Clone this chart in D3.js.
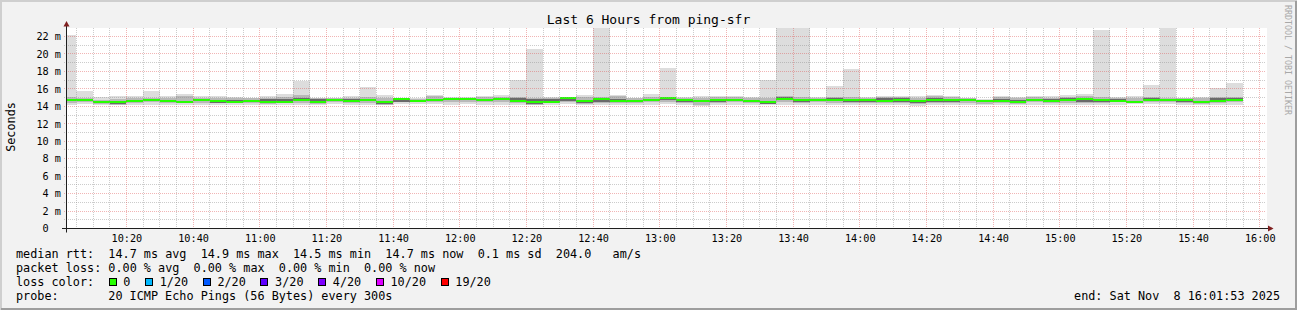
<!DOCTYPE html>
<html><head><meta charset="utf-8">
<script src="https://cdn.jsdelivr.net/npm/d3@7"></script>
<style>
html,body{margin:0;padding:0;background:#f2f2f2;overflow:hidden;}
svg{display:block;}
text{font-family:"DejaVu Sans Mono",monospace;fill:#000;white-space:pre;}
</style></head><body>
<svg id="c" width="1297" height="310"></svg>
<script>
// ---------------- data ----------------
const titleText = "Last 6 Hours from ping-sfr";
const timeStart = "10:01:53";
const timeEnd = "16:01:53";
const stepSeconds = 300;
// end time of each 5-minute probe interval
const stepEnds = [
 "10:05","10:10","10:15","10:20","10:25","10:30","10:35","10:40","10:45","10:50","10:55","11:00",
 "11:05","11:10","11:15","11:20","11:25","11:30","11:35","11:40","11:45","11:50","11:55","12:00",
 "12:05","12:10","12:15","12:20","12:25","12:30","12:35","12:40","12:45","12:50","12:55","13:00",
 "13:05","13:10","13:15","13:20","13:25","13:30","13:35","13:40","13:45","13:50","13:55","14:00",
 "14:05","14:10","14:15","14:20","14:25","14:30","14:35","14:40","14:45","14:50","14:55","15:00",
 "15:05","15:10","15:15","15:20","15:25","15:30","15:35","15:40","15:45","15:50","15:55"];
// ms values
const pingMin = [14.10,14.30,14.15,14.10,14.20,14.20,14.20,14.10,14.10,14.20,14.20,14.20,
 14.10,14.10,14.10,14.10,14.25,14.20,14.10,14.10,14.30,14.30,14.25,14.20,
 14.30,14.20,14.20,14.20,14.10,14.20,14.30,14.10,14.20,14.10,14.20,14.20,
 14.30,14.20,14.00,14.20,14.20,14.20,14.10,14.20,14.20,14.20,14.10,14.20,
 14.20,14.20,14.10,14.00,14.10,14.20,14.20,14.10,14.20,14.10,14.20,14.20,
 14.20,14.10,14.20,14.20,14.25,14.30,14.30,14.20,14.10,14.20,14.20];
const pingLo = [14.35,14.45,14.30,14.20,14.40,14.45,14.40,14.35,14.35,14.35,14.35,14.40,
 14.30,14.35,14.40,14.30,14.45,14.40,14.40,14.20,14.45,14.45,14.45,14.45,
 14.50,14.45,14.45,14.40,14.20,14.35,14.55,14.30,14.40,14.35,14.40,14.45,
 14.55,14.40,14.15,14.40,14.45,14.40,14.25,14.45,14.35,14.45,14.40,14.40,
 14.40,14.35,14.35,14.25,14.35,14.40,14.40,14.30,14.40,14.30,14.45,14.40,
 14.40,14.35,14.40,14.45,14.40,14.50,14.50,14.40,14.25,14.35,14.45];
const pingDkLo = [14.60,14.60,14.40,14.25,14.55,14.60,14.45,14.50,14.60,14.40,14.45,14.55,
 14.35,14.45,14.60,14.45,14.60,14.50,14.65,14.30,14.55,14.55,14.60,14.70,
 14.70,14.62,14.75,14.55,14.28,14.45,14.65,14.40,14.50,14.55,14.55,14.62,
 14.70,14.55,14.45,14.50,14.62,14.45,14.30,14.75,14.45,14.60,14.60,14.50,
 14.55,14.50,14.55,14.40,14.55,14.55,14.60,14.45,14.55,14.35,14.60,14.55,
 14.60,14.55,14.55,14.60,14.45,14.62,14.60,14.55,14.35,14.50,14.60];
const median = [14.68,14.70,14.45,14.50,14.65,14.70,14.60,14.55,14.67,14.58,14.50,14.65,
 14.55,14.55,14.70,14.55,14.70,14.60,14.75,14.50,14.80,14.65,14.72,14.80,
 14.80,14.72,14.85,14.65,14.50,14.55,14.90,14.65,14.80,14.65,14.65,14.72,
 14.92,14.70,14.58,14.72,14.72,14.62,14.45,14.85,14.72,14.70,14.72,14.72,
 14.70,14.65,14.70,14.62,14.70,14.70,14.70,14.60,14.65,14.55,14.70,14.65,
 14.75,14.80,14.68,14.65,14.55,14.72,14.72,14.68,14.50,14.65,14.70];
const pingDkHi = [14.80,14.86,14.55,14.60,14.75,14.80,14.70,14.65,14.75,14.65,14.75,14.75,
 14.80,14.85,14.95,14.80,14.80,14.85,14.85,14.60,14.90,14.75,14.88,14.90,
 14.90,14.88,14.95,14.92,14.80,14.80,15.00,14.75,14.90,14.80,14.75,14.82,
 15.02,14.80,14.68,14.82,14.82,14.72,14.55,15.05,14.82,14.80,14.95,14.82,
 14.85,14.90,14.90,14.75,14.95,14.80,14.80,14.65,14.85,14.70,14.80,14.80,
 14.90,14.95,14.82,14.85,14.65,14.95,14.82,14.85,14.60,14.90,14.90];
const pingHi = [15.05,15.00,14.70,14.80,14.95,15.00,14.90,15.20,14.95,14.90,14.95,14.90,
 15.00,15.10,15.30,14.90,14.90,15.00,15.10,15.00,14.95,14.85,15.15,15.00,
 14.98,15.10,15.10,15.10,14.95,14.95,15.02,15.10,15.10,15.20,14.90,15.10,
 15.05,15.00,14.95,15.10,15.05,14.95,14.90,15.15,15.05,14.95,15.05,15.05,
 15.00,15.05,15.05,15.00,15.15,15.05,14.90,14.75,15.05,14.95,15.05,15.00,
 15.10,15.15,15.10,14.95,14.95,15.10,15.00,14.95,14.90,15.05,15.05];
const pingMax = [22.20,15.80,15.10,15.20,15.20,15.70,15.20,15.40,15.20,15.20,15.10,15.00,
 15.20,15.40,16.90,15.00,15.00,15.20,16.20,15.35,15.00,14.90,15.35,15.10,
 15.05,15.20,15.35,17.00,20.60,15.05,15.05,15.35,23.50,15.35,15.00,15.45,
 18.35,15.10,15.20,15.20,15.20,15.10,17.00,23.50,23.50,15.05,16.30,18.30,
 15.10,15.20,15.20,15.20,15.35,15.20,15.00,14.85,15.20,15.10,15.20,15.20,
 15.35,15.45,22.80,15.05,15.20,16.40,23.50,15.00,15.10,16.05,16.70];
const yTicks = [0,2,4,6,8,10,12,14,16,18,20,22];
const xTickLabels = ["10:20","10:40","11:00","11:20","11:40","12:00","12:20","12:40","13:00",
 "13:20","13:40","14:00","14:20","14:40","15:00","15:20","15:40","16:00"];
const rttStats = [["14.7","ms avg"],["14.9","ms max"],["14.5","ms min"],["14.7","ms now"],["0.1","ms sd"]];
const rttAmS = "204.0";
const lossStats = [["0.00","% avg"],["0.00","% max"],["0.00","% min"],["0.00","% now"]];
const lossLabels = ["0","1/20","2/20","3/20","4/20","10/20","19/20"];
const lossColors = ["#26ff00","#00b8ff","#0059ff","#5e00ff","#7e00ff","#dd00ff","#ff0000"];
const probeText = "20 ICMP Echo Pings (56 Bytes) every 300s";
const endText = "end: Sat Nov  8 16:01:53 2025";
const yLabel = "Seconds";
const credit = "RRDTOOL / TOBI OETIKER";

// ---------------- drawing ----------------
const W = 1297, H = 310;
const svg = d3.select("#c");
const day = s => { const p = s.split(":").map(Number); return new Date(2025, 10, 8, p[0], p[1], p[2] || 0); };
const x = d3.scaleTime().domain([day(timeStart), day(timeEnd)]).range([66, 1266]);
const y = d3.scaleLinear().domain([0, 22.917]).range([228.5, 28.5]);
const CW = 7.1; // legend char advance

svg.append("rect").attr("width", W).attr("height", H).attr("fill", "#f2f2f2");
svg.append("rect").attr("x", 0).attr("y", 0).attr("width", W).attr("height", 2).attr("fill", "#cfcfcf");
svg.append("rect").attr("x", 0).attr("y", 0).attr("width", 2).attr("height", H).attr("fill", "#cfcfcf");
svg.append("rect").attr("x", W - 2).attr("y", 1).attr("width", 2).attr("height", H - 1).attr("fill", "#9e9e9e");
svg.append("rect").attr("x", 1).attr("y", H - 2).attr("width", W - 1).attr("height", 2).attr("fill", "#9e9e9e");

// canvas
svg.append("rect").attr("x", 66).attr("y", 28).attr("width", 1201).attr("height", 201).attr("fill", "#fff");

svg.append("clipPath").attr("id", "clip").append("rect")
  .attr("x", 66).attr("y", 28).attr("width", 1201).attr("height", 200.5);
const gData = svg.append("g").attr("clip-path", "url(#clip)").attr("shape-rendering", "crispEdges");

const bars = stepEnds.map((s, i) => {
  const t1 = day(s), t0 = new Date(t1.getTime() - stepSeconds * 1000);
  return { x0: x(t0), x1: x(t1), i };
});
const layers = [
  [pingMin, pingMax, "#dddddd"],
  [pingLo, pingHi, "#b8b8b8"],
  [pingDkLo, pingDkHi, "#6a6a6a"]
];
layers.forEach(([lo, hi, col]) => {
  gData.selectAll(null).data(bars).enter().append("rect")
    .attr("x", d => d.x0).attr("width", d => d.x1 - d.x0)
    .attr("y", d => y(hi[d.i])).attr("height", d => y(lo[d.i]) - y(hi[d.i]))
    .attr("fill", col);
});
gData.selectAll(null).data(bars).enter().append("rect")
  .attr("x", d => d.x0).attr("width", d => d.x1 - d.x0)
  .attr("y", d => y(median[d.i]) - 1).attr("height", 2)
  .attr("fill", lossColors[0]);

// grid
const gGrid = svg.append("g").attr("stroke-width", 1).attr("stroke-dasharray", "1,1").attr("fill", "none");
const minorColor = "rgba(143,143,143,0.45)", majorColor = "rgba(222,79,79,0.42)";
const yMinor = d3.range(1, 23, 2);
yMinor.forEach(v => {
  const yy = Math.round(y(v) - 0.5) + 0.5;
  gGrid.append("line").attr("x1", 64).attr("x2", 1266).attr("y1", yy).attr("y2", yy).attr("stroke", minorColor);
});
yTicks.filter(v => v > 0).forEach(v => {
  const yy = Math.round(y(v) - 0.5) + 0.5;
  gGrid.append("line").attr("x1", 64).attr("x2", 1266).attr("y1", yy).attr("y2", yy).attr("stroke", majorColor);
});
const majorTimes = xTickLabels.map(day);
const majorSet = new Set(majorTimes.map(d => d.getTime()));
d3.timeMinute.every(5).range(day(timeStart), day(timeEnd)).forEach(t => {
  const xx = Math.floor(x(t)) + 0.5;
  const maj = majorSet.has(t.getTime());
  gGrid.append("line").attr("x1", xx).attr("x2", xx).attr("y1", 28).attr("y2", 230)
    .attr("stroke", maj ? majorColor : minorColor);
});

// axes lines + arrows
svg.append("line").attr("x1", 62).attr("x2", 1270).attr("y1", 228.5).attr("y2", 228.5).attr("stroke", "#1f1f1f");
svg.append("line").attr("x1", 66.5).attr("x2", 66.5).attr("y1", 232.5).attr("y2", 24).attr("stroke", "#1f1f1f");
svg.append("path").attr("d", "M1268,225.5L1268,231.5L1273.5,228.5Z").attr("fill", "#802020");
svg.append("path").attr("d", "M63.5,26.5L69.5,26.5L66.5,21Z").attr("fill", "#802020");

// axis labels via d3 axes
const gx = svg.append("g").attr("transform", "translate(0,228)")
  .call(d3.axisBottom(x).tickValues(majorTimes).tickSize(0).tickFormat((d, i) => xTickLabels[i]));
gx.attr("font-family", null).attr("font-size", null);
gx.select(".domain").remove();
gx.selectAll("text").attr("y", 14).attr("dy", null).style("font-size", "10.2px");

const gy = svg.append("g").attr("transform", "translate(61,0)")
  .call(d3.axisLeft(y).tickValues(yTicks).tickSize(0).tickPadding(0).tickFormat(d => d ? d + " m" : "0"));
gy.attr("font-family", null).attr("font-size", null);
gy.select(".domain").remove();
gy.selectAll("text").style("font-size", "10.2px").attr("x", d => d ? 0 : -12.3);

// title
svg.append("text").attr("x", 648.5).attr("y", 24).attr("text-anchor", "middle")
  .style("font-size", "13px").text(titleText);

// y label
svg.append("text").attr("transform", "translate(15,127) rotate(-90)").attr("text-anchor", "middle")
  .style("font-size", "11.8px").text(yLabel);

// credit
svg.append("text").attr("transform", "translate(1285,5) rotate(90)")
  .style("font-size", "8.3px").style("fill", "#a8a8a8").text(credit);

// legend
const legend = svg.append("g").style("font-size", "11.8px");
const row1 = "median rtt:  " + rttStats.map(s => s[0] + " " + s[1]).join("  ") + "  " + rttAmS + "   am/s";
const row2 = "packet loss: " + lossStats.map(s => s[0] + " " + s[1]).join("  ");
legend.append("text").attr("x", 16).attr("y", 258).text(row1);
legend.append("text").attr("x", 16).attr("y", 272).text(row2);
legend.append("text").attr("x", 16).attr("y", 286).text("loss color:");
let bx = 108.6;
lossLabels.forEach((lab, i) => {
  legend.append("rect").attr("x", Math.round(bx) + 0.5).attr("y", 278.5).attr("width", 7).attr("height", 7)
    .attr("fill", lossColors[i]).attr("stroke", "#000").attr("stroke-width", 1);
  legend.append("text").attr("x", bx + 14.7).attr("y", 286).text(lab);
  bx += 14.7 + lab.length * CW + 14.6;
});
legend.append("text").attr("x", 16).attr("y", 300).text("probe:");
legend.append("text").attr("x", 16 + 13 * CW).attr("y", 300).text(probeText);
legend.append("text").attr("x", 1280).attr("y", 300).attr("text-anchor", "end").text(endText);
</script>
</body></html>
